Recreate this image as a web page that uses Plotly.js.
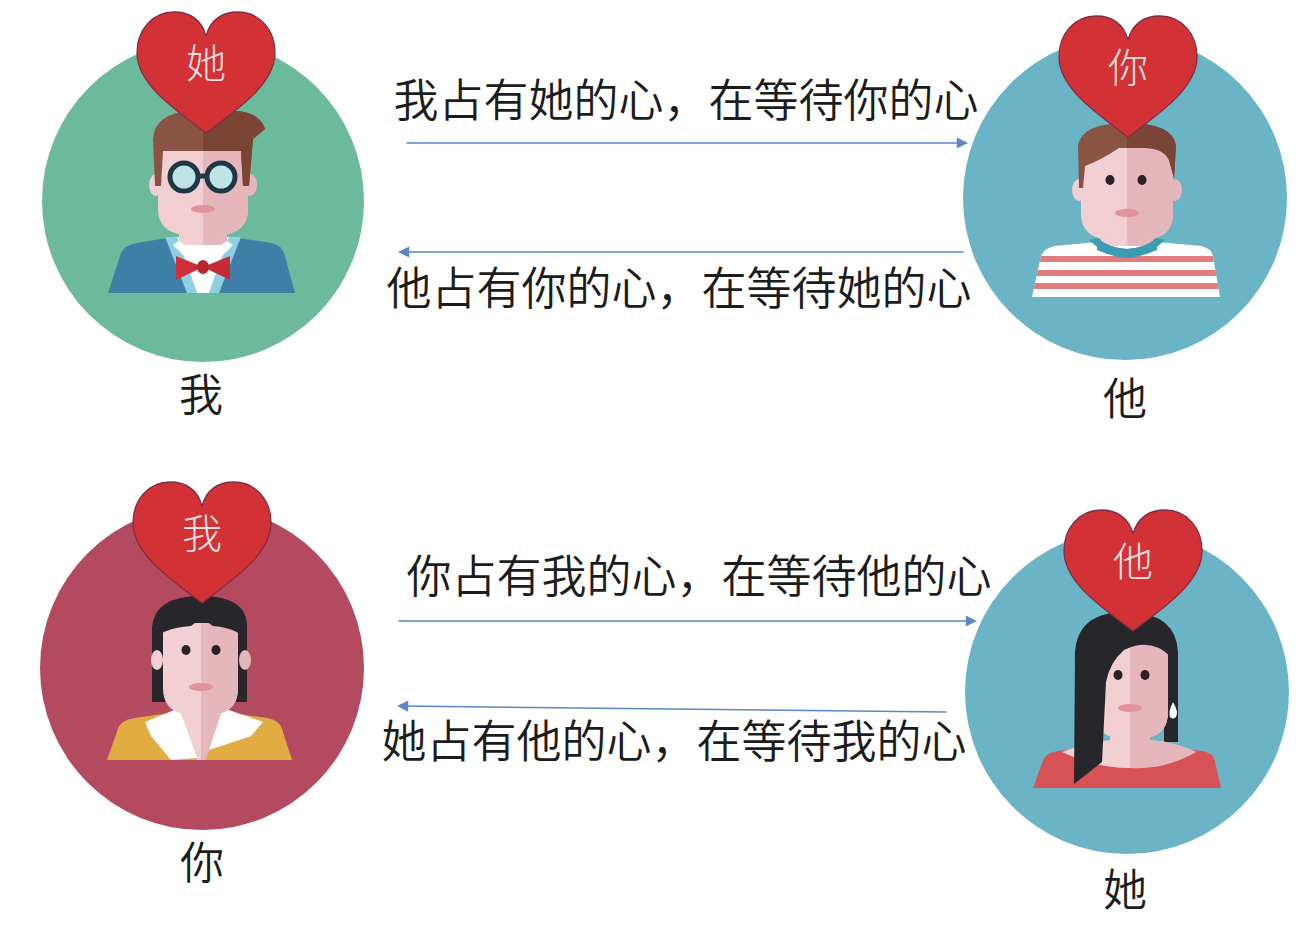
<!DOCTYPE html>
<html>
<head>
<meta charset="utf-8">
<script src="https://cdn.plot.ly/plotly-3.0.1.min.js"></script>
<style>html,body{margin:0;padding:0;background:#fff;}</style>
</head>
<body>
<div id="deadlock_graph" style="width:1304px;height:940px;"></div>
<script>
/* four people, four hearts: each one holds a heart and waits for the next one */

var names = ['我', '他', '你', '她'];
var circle_x = [203, 1125, 202, 1127];
var circle_y = [201, 198, 668, 692];
var circle_r = [161, 162, 162, 162];
var circle_colors = ['#6cb99b', '#6ab4c5', '#b44a5f', '#6ab4c5'];
var avatar_kind = ['glasses', 'stripes', 'shorthair', 'longhair'];
var avatar_x = [203, 1127, 201, 1130];

var heart_owner = ['她', '你', '我', '他'];
var heart_x = [206, 1128, 202, 1133];
var heart_top = [12, 16, 482, 510];

var name_x = [201, 1125, 202, 1125];
var name_y = [400, 404, 868, 895];

var messages = ['我占有她的心，在等待你的心', '他占有你的心，在等待她的心',
                '你占有我的心，在等待他的心', '她占有他的心，在等待我的心'];
var message_x = [686, 679, 699, 674];
var message_y = [106, 294, 582, 747];

var arrow_from_x = [405, 965, 397, 948];
var arrow_from_y = [143, 252, 621, 712];
var arrow_to_x = [968, 398, 977, 397];
var arrow_to_y = [143, 252, 621, 706];

var skin = '#f2cfd3';
var skin_dark = '#e5b6bc';
var shapes = [];

// path written relative to (cx, cy), uppercase commands only
function rel(cx, cy, d) {
    return d.trim().split(/\s+/).map(function(t) {
        if (t.indexOf(',') < 0) return t;
        var p = t.split(',');
        return (cx + parseFloat(p[0])) + ',' + (cy + parseFloat(p[1]));
    }).join(' ');
}
function blob(cx, cy, d, color) {
    shapes.push({type: 'path', xref: 'x', yref: 'y', layer: 'below',
                 path: rel(cx, cy, d), fillcolor: color, line: {width: 0}});
}
function oval(cx, cy, x, y, rx, ry, color, line_color, lw) {
    shapes.push({type: 'circle', xref: 'x', yref: 'y', layer: 'below',
                 x0: cx + x - rx, x1: cx + x + rx, y0: cy + y - ry, y1: cy + y + ry,
                 fillcolor: color, line: {width: lw || 0, color: line_color || color}});
}
function face(cx, cy, l, r, t, chin) {
    var d = 'M ' + l + ',' + t + ' L ' + r + ',' + t + ' L ' + r + ',' + (chin - 26) +
        ' Q ' + r + ',' + (chin - 3) + ' ' + (r * 0.42) + ',' + chin + ' L ' + (l * 0.42) + ',' + chin +
        ' Q ' + l + ',' + (chin - 3) + ' ' + l + ',' + (chin - 26) + ' Z';
    blob(cx, cy, d, skin);
    var d2 = 'M 0,' + t + ' L ' + r + ',' + t + ' L ' + r + ',' + (chin - 26) +
        ' Q ' + r + ',' + (chin - 3) + ' ' + (r * 0.42) + ',' + chin + ' L 0,' + chin + ' Z';
    blob(cx, cy, d2, skin_dark);
}
function neck(cx, cy, w, t, b) {
    blob(cx, cy, 'M ' + (-w) + ',' + t + ' L ' + w + ',' + t + ' L ' + w + ',' + b + ' L ' + (-w) + ',' + b + ' Z', skin);
    blob(cx, cy, 'M 0,' + t + ' L ' + w + ',' + t + ' L ' + w + ',' + b + ' L 0,' + b + ' Z', skin_dark);
}
function eyes_mouth(cx, cy, ex1, ex2, ey, my) {
    oval(cx, cy, ex1, ey, 4.5, 5, '#2a2226');
    oval(cx, cy, ex2, ey, 4.5, 5, '#2a2226');
    oval(cx, cy, 0, my, 12, 4, '#e0939c');
}

function draw_glasses(cx, cy) {
    blob(cx, cy, 'M -95,92 L -82,52 Q -78,44 -66,42 L -30,36 L 30,36 L 68,42 Q 78,44 81,52 L 92,92 Z', '#3f7fa7');
    blob(cx, cy, 'M -38,36 L -26,36 L -6,92 L -16,92 Z', '#8fcfe3');
    blob(cx, cy, 'M 38,36 L 26,36 L 6,92 L 16,92 Z', '#8fcfe3');
    blob(cx, cy, 'M -26,36 L 26,36 L 6,92 L -6,92 Z', '#ffffff');
    neck(cx, cy, 24, 10, 44);
    blob(cx, cy, 'M -24,40 L 0,56 L -12,62 L -30,44 Z', '#ffffff');
    blob(cx, cy, 'M 24,40 L 0,56 L 12,62 L 30,44 Z', '#ffffff');
    oval(cx, cy, -47, -16, 7, 11, skin);
    oval(cx, cy, 47, -16, 7, 11, skin_dark);
    face(cx, cy, -45, 45, -55, 34);
    blob(cx, cy, 'M -48,-15 L -50,-62 Q -48,-88 -12,-90 L 30,-90 Q 56,-90 62,-72 L 50,-62 L 46,-15 L 40,-15 L 38,-50 L -40,-50 L -42,-15 Z', '#8a5343');
    blob(cx, cy, 'M 0,-90 L 30,-90 Q 56,-90 62,-72 L 50,-62 L 46,-15 L 40,-15 L 38,-50 L 0,-50 Z', '#7a4536');
    shapes.push({type: 'line', xref: 'x', yref: 'y', layer: 'below',
                 x0: cx - 5, x1: cx + 4, y0: cy - 25, y1: cy - 25, line: {color: '#1d3842', width: 5}});
    oval(cx, cy, -19, -24, 14, 14, '#bfe4e6', '#1d3842', 5);
    oval(cx, cy, 18, -24, 14, 14, '#bfe4e6', '#1d3842', 5);
    oval(cx, cy, 0, 8, 12, 4, '#e0939c');
    blob(cx, cy, 'M -27,55 L 0,66 L -27,79 Z', '#cc3139');
    blob(cx, cy, 'M 27,55 L 0,66 L 27,79 Z', '#c22c35');
    oval(cx, cy, 0, 66, 6, 7, '#b8272f');
}

function draw_stripes(cx, cy) {
    blob(cx, cy, 'M -95,99 L -86,58 Q -83,50 -72,48 L -30,44 L 30,44 L 74,48 Q 84,50 86,58 L 93,99 Z', '#ffffff');
    [[58, 64], [72, 78], [85, 91]].forEach(function(s) {
        var l0 = -86 - 9 * (s[0] - 58) / 41, l1 = -86 - 9 * (s[1] - 58) / 41;
        var r0 = 86 + 7 * (s[0] - 58) / 41, r1 = 86 + 7 * (s[1] - 58) / 41;
        blob(cx, cy, 'M ' + l0 + ',' + s[0] + ' L ' + r0 + ',' + s[0] + ' L ' + r1 + ',' + s[1] + ' L ' + l1 + ',' + s[1] + ' Z', '#e07c7e');
    });
    blob(cx, cy, 'M -38,42 Q 0,78 38,42 L 30,40 Q 0,62 -30,40 Z', '#3c9db2');
    neck(cx, cy, 26, 10, 48);
    blob(cx, cy, 'M -30,40 Q 0,62 30,40 L 30,52 Q 0,66 -30,52 Z', '#3c9db2');
    oval(cx, cy, -48, -8, 7, 11, skin);
    oval(cx, cy, 48, -8, 7, 11, skin_dark);
    face(cx, cy, -46, 46, -50, 42);
    blob(cx, cy, 'M -48,-10 L -49,-52 Q -46,-75 0,-75 Q 46,-75 49,-52 L 47,-20 L 42,-38 Q 36,-50 18,-50 L -8,-50 Q -26,-38 -42,-32 L -44,-10 Z', '#8a5442');
    blob(cx, cy, 'M 0,-75 Q 46,-75 49,-52 L 47,-20 L 42,-38 Q 36,-50 18,-50 L 0,-50 Z', '#7a4536');
    eyes_mouth(cx, cy, -17, 15, -18, 15);
}

function draw_shorthair(cx, cy) {
    blob(cx, cy, 'M -94,92 L -82,58 Q -78,52 -66,50 L -25,44 L 25,44 L 66,50 Q 76,52 80,58 L 91,92 Z', '#e1ad43');
    blob(cx, cy, 'M -49,34 L -49,-40 Q -47,-72 0,-72 Q 47,-72 46,-40 L 46,34 L -49,34 Z', '#27272b');
    neck(cx, cy, 22, 20, 46);
    blob(cx, cy, 'M -22,44 L 22,44 L 4,92 L -4,92 Z', skin);
    blob(cx, cy, 'M 0,44 L 22,44 L 4,92 L 0,92 Z', skin_dark);
    blob(cx, cy, 'M -56,54 L -22,40 L -4,90 L -30,92 L -50,68 Z', '#ffffff');
    blob(cx, cy, 'M 22,40 L 62,54 L 50,68 L 8,82 Z', '#ffffff');
    oval(cx, cy, -44, -8, 6, 10, skin);
    oval(cx, cy, 44, -8, 6, 10, skin_dark);
    face(cx, cy, -38, 37, -45, 46);
    blob(cx, cy, 'M -49,-24 Q -49,-72 0,-72 Q 47,-72 46,-24 Q 40,-40 12,-42 L 0,-50 L -10,-42 Q -42,-40 -49,-24 Z', '#27272b');
    eyes_mouth(cx, cy, -15, 15, -18, 19);
}

function draw_longhair(cx, cy) {
    blob(cx, cy, 'M -97,96 L -86,66 Q -80,58 -60,58 L 60,58 Q 80,58 84,66 L 91,96 Z', '#d65256');
    blob(cx, cy, 'M 0,-80 Q 46,-78 48,-40 L 48,50 L 34,50 L 34,-20 L 0,-20 Z', '#27272b');
    neck(cx, cy, 20, 20, 60);
    blob(cx, cy, 'M -68,60 Q -40,50 -20,48 L 20,48 Q 45,50 66,60 Q 0,92 -68,60 Z', skin);
    blob(cx, cy, 'M 0,48 L 20,48 Q 45,50 66,60 Q 35,78 0,76 Z', skin_dark);
    face(cx, cy, -34, 38, -48, 46);
    blob(cx, cy, 'M -56,92 L -55,-40 Q -52,-82 0,-80 Q 40,-78 46,-40 L 40,-36 Q 20,-55 -6,-42 Q -20,-30 -24,-10 L -28,70 Z', '#27272b');
    eyes_mouth(cx, cy, -12, 15, -17, 16);
    blob(cx, cy, 'M 43,10 Q 49,20 46,25 Q 43,28 40,25 Q 38,20 43,10 Z', '#ffffff');
}

var painters = {glasses: draw_glasses, stripes: draw_stripes, shorthair: draw_shorthair, longhair: draw_longhair};

function heart_path(cx, top) {
    var pts = 'M 50,31 C 47,20 38,15 27,15 C 11,15 0,27 0,42 C 0,62 25,78 50,95 C 75,78 100,62 100,42 C 100,27 89,15 73,15 C 62,15 53,20 50,31 Z';
    return pts.split(' ').map(function(t) {
        if (t.indexOf(',') < 0) return t;
        var p = t.split(',');
        return (cx + (parseFloat(p[0]) - 50) / 50 * 69) + ',' + (top + (parseFloat(p[1]) - 15) / 80 * 121);
    }).join(' ');
}

var counter;
for (counter = 0; counter < names.length; counter++) {
    shapes.push({type: 'circle', xref: 'x', yref: 'y', layer: 'below',
                 x0: circle_x[counter] - circle_r[counter], x1: circle_x[counter] + circle_r[counter],
                 y0: circle_y[counter] - circle_r[counter], y1: circle_y[counter] + circle_r[counter],
                 fillcolor: circle_colors[counter], line: {width: 0}});
    painters[avatar_kind[counter]](avatar_x[counter], circle_y[counter]);
}
for (counter = 0; counter < heart_owner.length; counter++) {
    shapes.push({type: 'path', xref: 'x', yref: 'y', layer: 'below',
                 path: heart_path(heart_x[counter], heart_top[counter]),
                 fillcolor: '#d23136', line: {width: 1.3, color: '#7e2e46'}});
}

var heart_text_y = heart_top.map(function(t) { return t + 56; });

var heart_labels = {
    x: heart_x, y: heart_text_y, text: heart_owner,
    mode: 'text', type: 'scatter', hoverinfo: 'skip',
    textfont: {family: 'Noto Sans CJK SC', size: 40, weight: 300, color: '#fbe2e2'}
};
var name_labels = {
    x: name_x, y: name_y, text: names,
    mode: 'text', type: 'scatter', hoverinfo: 'skip',
    textfont: {family: 'Noto Sans CJK SC', size: 44, weight: 350, color: '#1c1c1c'}
};
var message_labels = {
    x: message_x, y: message_y, text: messages,
    mode: 'text', type: 'scatter', hoverinfo: 'skip',
    textfont: {family: 'Noto Sans CJK SC', size: 45, weight: 350, color: '#1c1c1c'}
};

var arrows = [];
for (counter = 0; counter < arrow_to_x.length; counter++) {
    arrows.push({
        x: arrow_to_x[counter], y: arrow_to_y[counter],
        ax: arrow_from_x[counter], ay: arrow_from_y[counter],
        xref: 'x', yref: 'y', axref: 'x', ayref: 'y',
        text: '', showarrow: true, arrowhead: 2, arrowsize: 1.4,
        arrowwidth: 1.6, arrowcolor: '#5b87c6', standoff: 0
    });
}

var layout = {
    width: 1304, height: 940,
    margin: {l: 0, r: 0, t: 0, b: 0},
    paper_bgcolor: '#ffffff', plot_bgcolor: '#ffffff',
    showlegend: false,
    xaxis: {range: [0, 1304], visible: false, fixedrange: true},
    yaxis: {range: [940, 0], visible: false, fixedrange: true},
    shapes: shapes,
    annotations: arrows
};

Plotly.newPlot('deadlock_graph', [heart_labels, name_labels, message_labels], layout, {staticPlot: true});
</script>
</body>
</html>
